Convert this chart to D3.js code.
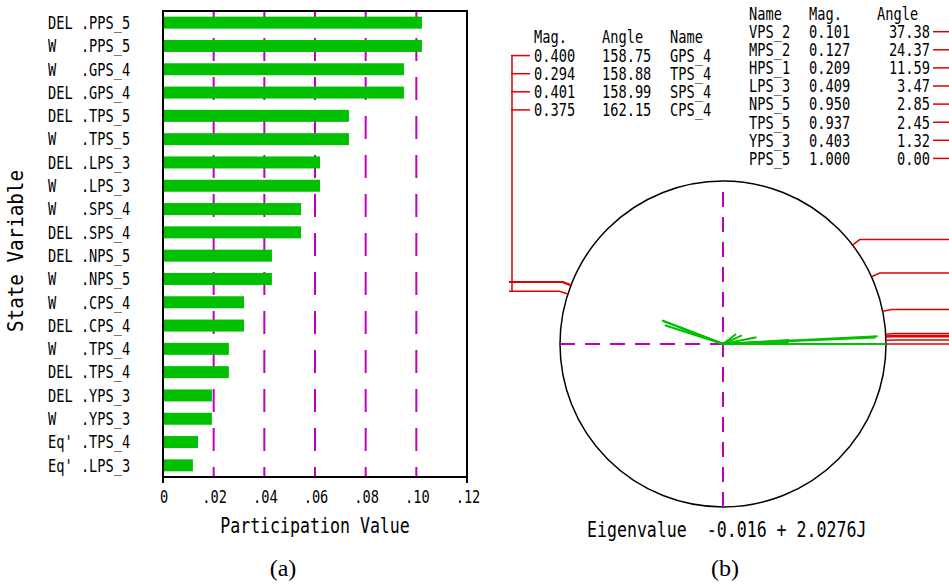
<!DOCTYPE html>
<html><head><meta charset="utf-8">
<script src="https://cdn.jsdelivr.net/npm/d3@7/dist/d3.min.js"></script>
<style>html,body{margin:0;padding:0;background:#fff;}svg{display:block;}</style>
</head><body>
<svg id="chart" width="949" height="584"></svg>
<script>
// ---------- data ----------
const barLabels = ["DEL .PPS_5","W   .PPS_5","W   .GPS_4","DEL .GPS_4","DEL .TPS_5","W   .TPS_5",
  "DEL .LPS_3","W   .LPS_3","W   .SPS_4","DEL .SPS_4","DEL .NPS_5","W   .NPS_5","W   .CPS_4",
  "DEL .CPS_4","W   .TPS_4","DEL .TPS_4","DEL .YPS_3","W   .YPS_3","Eq' .TPS_4","Eq' .LPS_3"];
const barValues = [0.1022,0.1022,0.0951,0.0951,0.0734,0.0734,0.0620,0.0620,0.0545,0.0545,
  0.0430,0.0430,0.0320,0.0320,0.0260,0.0260,0.0193,0.0193,0.0138,0.0118];
const xTicks = [0,0.02,0.04,0.06,0.08,0.10,0.12];
const xTickLabels = ["0",".02",".04",".06",".08",".10",".12"];

const leftNames = ["GPS_4","TPS_4","SPS_4","CPS_4"];
const leftMags = [0.400,0.294,0.401,0.375];
const leftAngles = [158.75,158.88,158.99,162.15];

const rightNames = ["VPS_2","MPS_2","HPS_1","LPS_3","NPS_5","TPS_5","YPS_3","PPS_5"];
const rightMags = [0.101,0.127,0.209,0.409,0.950,0.937,0.403,1.000];
const rightAngles = [37.38,24.37,11.59,3.47,2.85,2.45,1.32,0.00];

const eigenText = "Eigenvalue  -0.016 + 2.0276J";

// ---------- styles ----------
const GREEN = "#00c000", MAG = "#c000c0", RED = "#e00000";
const FONT = "DejaVu Sans Mono", SX = 0.79, SMALL = 17.3, LARGE = 21;
const svg = d3.select("#chart");

function mono(g, str, x, y, size, anchor) {
  return g.append("text")
    .attr("transform", `translate(${x},${y}) scale(${SX},1)`)
    .attr("font-family", FONT).attr("font-size", size)
    .attr("text-anchor", anchor || "start")
    .attr("fill", "#000")
    .style("white-space", "pre")
    .text(str);
}

// ================= panel (a) =================
const A = svg.append("g");
const x = d3.scaleLinear().domain([0, 0.12]).range([163, 467]);
const y = d3.scaleBand().domain(d3.range(barLabels.length)).range([11, 477])
  .paddingInner(0.485).paddingOuter(0.2425);

// dashed grid lines
A.selectAll("line.grid").data(xTicks.slice(1, -1)).join("line")
  .attr("x1", d => x(d)).attr("x2", d => x(d))
  .attr("y1", 11).attr("y2", 477)
  .attr("stroke", MAG).attr("stroke-width", 2)
  .attr("stroke-dasharray", "23,16").attr("stroke-dashoffset", 12);

// bars
A.selectAll("rect.bar").data(barValues).join("rect")
  .attr("x", x(0)).attr("y", (d, i) => y(i))
  .attr("width", d => x(d) - x(0)).attr("height", y.bandwidth())
  .attr("fill", GREEN);

// frame
A.append("rect").attr("x", 163).attr("y", 11).attr("width", 304).attr("height", 466)
  .attr("fill", "none").attr("stroke", "#000").attr("stroke-width", 2);
[0, 0.12].forEach(v => A.append("line").attr("x1", x(v)).attr("x2", x(v))
  .attr("y1", 477).attr("y2", 483).attr("stroke", "#000").attr("stroke-width", 2));

// category labels
barLabels.forEach((s, i) => mono(A, s, 48, y(i) + y.bandwidth() / 2 + 6.3, SMALL, "start"));

// x tick labels
xTicks.forEach((t, i) => mono(A, xTickLabels[i], x(t) + 1, 503, SMALL, "middle"));

// axis titles
mono(A, "Participation Value", 315, 533, LARGE, "middle");
A.append("text")
  .attr("transform", "translate(23,251) rotate(-90)")
  .attr("font-family", FONT).attr("font-size", LARGE)
  .attr("text-anchor", "middle")
  .attr("textLength", 162).attr("lengthAdjust", "spacingAndGlyphs")
  .text("State Variable");

svg.append("text").attr("x", 283).attr("y", 576).attr("text-anchor", "middle")
  .attr("font-family", "Liberation Serif").attr("font-size", 24).text("(a)");

// ================= panel (b) =================
const B = svg.append("g");
const cx = 723, cy = 344, R = 163;
const rScale = d3.scaleLinear().domain([0, 1]).range([0, R]);
const rad = a => a * Math.PI / 180;
const px = (r, a) => cx + r * Math.cos(rad(a));
const py = (r, a) => cy - r * Math.sin(rad(a));

B.append("circle").attr("cx", cx).attr("cy", cy).attr("r", R)
  .attr("fill", "none").attr("stroke", "#000").attr("stroke-width", 1.5);

B.append("line").attr("x1", cx).attr("x2", cx).attr("y1", cy + R).attr("y2", cy - R)
  .attr("stroke", MAG).attr("stroke-width", 2).attr("stroke-dasharray", "15,10");
B.append("line").attr("x1", cx - R).attr("x2", cx).attr("y1", cy).attr("y2", cy)
  .attr("stroke", MAG).attr("stroke-width", 2).attr("stroke-dasharray", "15,10");

// phasors
const allMags = leftMags.concat(rightMags);
const allAngles = leftAngles.concat(rightAngles);
allMags.forEach((m, i) => {
  B.append("line").attr("x1", cx).attr("y1", cy)
    .attr("x2", px(rScale(m), allAngles[i])).attr("y2", py(rScale(m), allAngles[i]))
    .attr("stroke", GREEN).attr("stroke-width", 2);
});

// red leader lines – right group
rightAngles.forEach(a => {
  const x0 = px(R, a), y0 = py(R, a), x1 = px(R + 9, a), y1 = py(R + 9, a);
  B.append("path").attr("d", `M${x0},${y0}L${x1},${y1}L960,${y1}`)
    .attr("fill", "none").attr("stroke", RED).attr("stroke-width", 1.5);
});
// red leader lines – left group
let lowest = 0;
leftAngles.forEach(a => {
  const x0 = px(R, a), y0 = py(R, a), x1 = px(R + 9, a), y1 = py(R + 9, a);
  lowest = Math.max(lowest, y1);
  B.append("path").attr("d", `M${x0},${y0}L${x1},${y1}L509,${y1}`)
    .attr("fill", "none").attr("stroke", RED).attr("stroke-width", 1.5);
});

// left table
const lRow = i => 55.6 + 18.1 * i;
B.append("line").attr("x1", 512).attr("x2", 512).attr("y1", lRow(0)).attr("y2", lowest)
  .attr("stroke", RED).attr("stroke-width", 1.5);
mono(B, "Mag.", 534, 43, SMALL);
mono(B, "Angle", 602, 43, SMALL);
mono(B, "Name", 670, 43, SMALL);
leftNames.forEach((n, i) => {
  B.append("line").attr("x1", 511).attr("x2", 530).attr("y1", lRow(i)).attr("y2", lRow(i))
    .attr("stroke", RED).attr("stroke-width", 1.5);
  mono(B, d3.format(".3f")(leftMags[i]), 534, lRow(i) + 6.3, SMALL);
  mono(B, d3.format(".2f")(leftAngles[i]), 602, lRow(i) + 6.3, SMALL);
  mono(B, n, 670, lRow(i) + 6.3, SMALL);
});

// right table
const rRow = i => 31.7 + 18.1 * i;
mono(B, "Name", 749, 19.6, SMALL);
mono(B, "Mag.", 809, 19.6, SMALL);
mono(B, "Angle", 877, 19.6, SMALL);
rightNames.forEach((n, i) => {
  mono(B, n, 749, rRow(i) + 6.3, SMALL);
  mono(B, d3.format(".3f")(rightMags[i]), 809, rRow(i) + 6.3, SMALL);
  mono(B, d3.format(".2f")(rightAngles[i]), 930, rRow(i) + 6.3, SMALL, "end");
  B.append("line").attr("x1", 933).attr("x2", 960).attr("y1", rRow(i)).attr("y2", rRow(i))
    .attr("stroke", RED).attr("stroke-width", 1.5);
});

mono(B, eigenText, 587, 537, LARGE);

svg.append("text").attr("x", 725).attr("y", 576).attr("text-anchor", "middle")
  .attr("font-family", "Liberation Serif").attr("font-size", 24).text("(b)");
</script>
</body></html>
